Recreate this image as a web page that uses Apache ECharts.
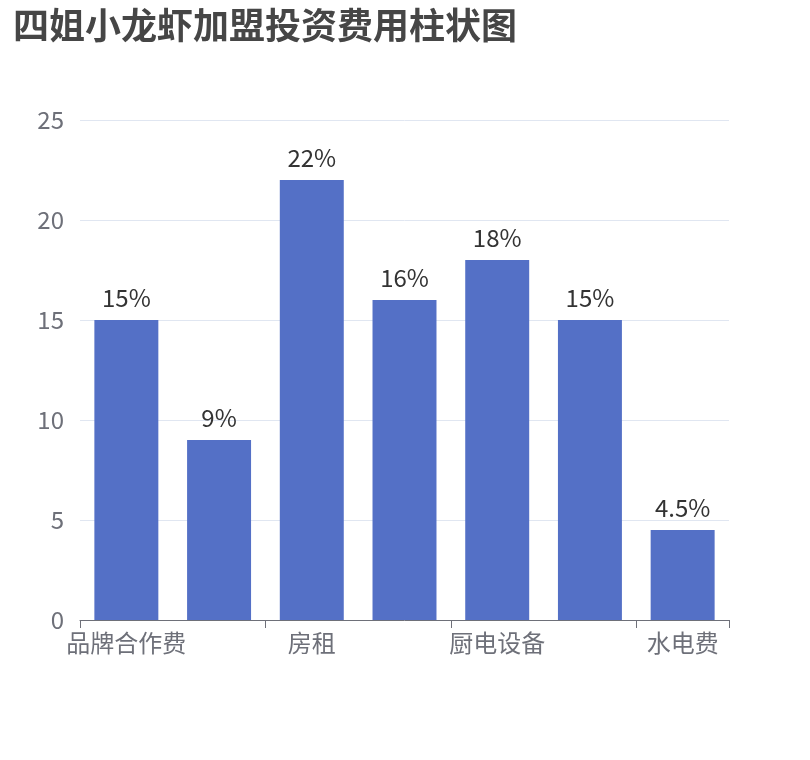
<!DOCTYPE html>
<html>
<head>
<meta charset="utf-8">
<script src="https://cdn.jsdelivr.net/npm/echarts@6/dist/echarts.min.js"></script>
<style>
  html, body { margin: 0; padding: 0; background: #fff; }
  #chart { width: 810px; height: 760px; }
</style>
</head>
<body>
<div id="chart"></div>
<script>
// 投资费用类别与占比（%）
const categories = ["品牌合作费", "装修费用", "房租", "人员工资", "厨电设备", "首批进货", "水电费"];
const values = [15, 9, 22, 16, 18, 15, 4.5];

const chart = echarts.init(document.getElementById("chart"));
const font = "'Noto Sans CJK SC', 'Noto Sans', sans-serif";

chart.setOption({
  textStyle: { fontFamily: font },
  title: {
    text: "四姐小龙虾加盟投资费用柱状图",
    left: 8,
    top: 2,
    textStyle: { fontSize: 36, fontWeight: "bold", color: "#464646", fontFamily: font }
  },
  grid: { left: 80, right: 81, top: 120, bottom: 140, containLabel: false },
  xAxis: {
    type: "category",
    data: categories,
    axisLabel: { fontSize: 24, color: "#6e7079", margin: 11, fontFamily: font },
    axisLine: { lineStyle: { color: "#6e7079" } },
    axisTick: { show: true, length: 8, lineStyle: { color: "#6e7079" } }
  },
  yAxis: {
    type: "value",
    min: 0,
    max: 25,
    interval: 5,
    axisLabel: { fontSize: 24, color: "#6e7079", margin: 16, fontFamily: font },
    splitLine: { lineStyle: { color: "#e0e6f1" } }
  },
  series: [{
    type: "bar",
    data: values,
    barWidth: "69%",
    itemStyle: { color: "#5470c6" },
    label: {
      show: true,
      position: "top",
      distance: 10,
      formatter: "{c}%",
      fontSize: 24,
      color: "#333",
      fontFamily: font
    }
  }]
});
</script>
</body>
</html>
